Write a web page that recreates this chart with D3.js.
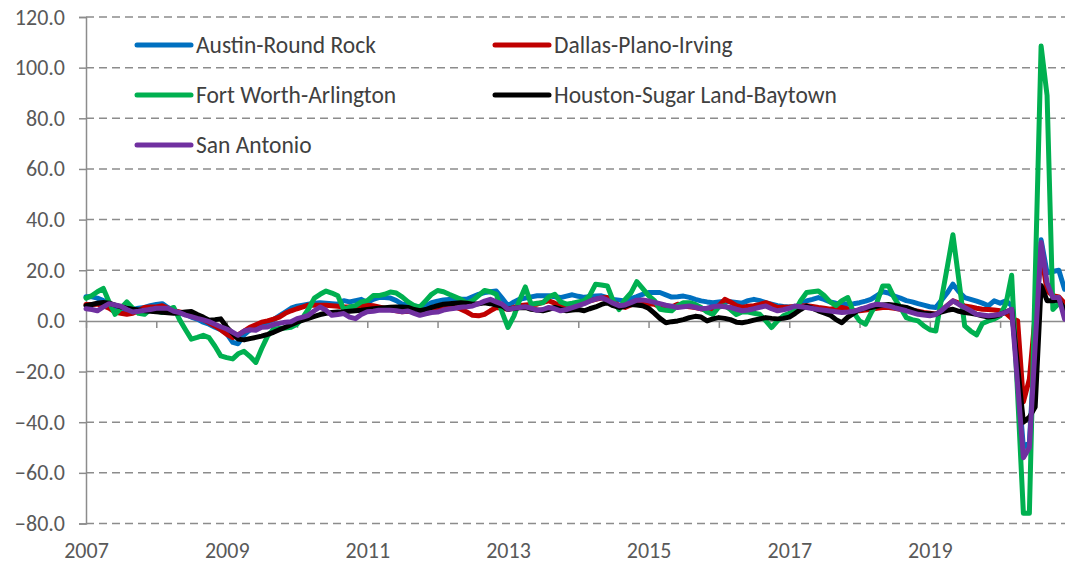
<!DOCTYPE html>
<html>
<head>
<meta charset="utf-8">
<script src="https://cdn.jsdelivr.net/npm/d3@7"></script>
<style>
    body { margin: 0; background: #fff; }
    svg { display: block; font-family: Calibri, Carlito, Lato, sans-serif; }
</style>
</head>
<body>
<div id="chart"></div>
<script>
// monthly values, Jan 2007 .. Dec 2020
const austin = [
    9.5, 9.5, 9, 8, 6.6, 5.5, 5, 4, 4.5, 5, 5.3, 6,
    6.5, 6.8, 5.3, 4, 3, 2.6, 1.5, 0.7, -0.5, -1.3, -2.5, -3.5,
    -5, -8.5, -9, -5.5, -3.5, -2.5, -1.5, -0.5, 0.5, 2, 3.5, 5,
    5.8, 6.2, 6.6, 7, 7.2, 7, 6.8, 6.6, 8, 7.5, 8, 8.5,
    7.2, 8.5, 9.2, 9.2, 9, 8, 6.6, 6.6, 6, 5.3, 6, 7.2,
    7.8, 8.3, 8.5, 8.5, 8.5, 8.5, 9.5, 10.5, 11.2, 11.5, 11.8, 9,
    6, 7.5, 8.5, 9, 9.5, 9.9, 9.9, 9.9, 9.5, 9.2, 9.8, 10.3,
    9.7, 9.3, 9.5, 9.8, 9.9, 9.2, 8.5, 8.2, 7.9, 8.8, 9.6, 10.5,
    11.2, 11.2, 11.2, 10.3, 9.4, 9.5, 9.8, 9.3, 8.5, 7.9, 7.5, 7.2,
    7.5, 7.8, 7.6, 7.3, 7, 8, 8.5, 8, 7.2, 6.6, 6, 5.7,
    5.5, 5.3, 6.5, 7.9, 8.5, 9.2, 8.5, 7.5, 7, 6.8, 6.6, 6.8,
    7.2, 7.8, 8.5, 10, 11.5, 11, 9.8, 9, 8, 7.5, 6.8, 6.2,
    5.6, 5.3, 8, 11, 14.5, 11.5, 9.2, 8.5, 7.8, 7, 6, 7.9,
    7, 7.9, 6, -22, -50, -48, -8, 32, 19, 19.5, 20, 12.5
];
const dallas = [
    6.5, 6.5, 6.6, 6, 5, 3.5, 3, 2.6, 3, 4, 5.3, 5.5,
    5.5, 6, 5, 4, 3.5, 3, 2.5, 1.5, 0.5, -0.7, -2, -3.5,
    -5.3, -6.6, -5.5, -4, -2.5, -1.5, -0.5, 0, 0.7, 1.5, 3, 4,
    4.8, 5.5, 6.2, 6.2, 6.2, 6.2, 6, 5.8, 5.5, 5.5, 5.5, 5.8,
    6.2, 6, 5.5, 5, 4.5, 4, 3.6, 3.8, 3.5, 2.8, 3, 3.8,
    4.5, 5.5, 6, 5.5, 4.6, 3.5, 2.2, 2, 2.6, 4, 5.3, 5,
    4.6, 5.3, 6, 6.3, 6.5, 6.6, 7.3, 7.9, 7, 6, 6, 6,
    6.5, 7.3, 7.9, 8.5, 9, 9.2, 7.5, 6, 5.3, 6.3, 7.2, 7,
    6.8, 6.6, 5.5, 4.6, 5.5, 6.6, 6, 5.6, 5.3, 4.8, 4.3, 4,
    6, 8.5, 7.5, 6, 5.3, 5.8, 6, 6.5, 7.2, 6.3, 5.3, 5.4,
    5.5, 5.7, 5.9, 6, 5.7, 5.3, 5, 4.6, 5, 5.3, 4.7, 4.2,
    4, 4.3, 4.6, 5, 5.3, 5.3, 5, 4.6, 4.5, 4.2, 3.8, 3.3,
    3, 2.6, 4, 6, 7.9, 7, 5.9, 5.5, 5, 4.6, 4.5, 4.3,
    4, 3, 1, 0, -32, -23, 2, 27, 11.8, 10, 9.5, 7
];
const fortWorth = [
    9, 10, 11.5, 12.8, 7.5, 2.6, 5, 7.5, 5, 3, 2.6, 4.6,
    4, 3.3, 4.5, 5.3, 0.5, -3.5, -7.2, -6.5, -5.7, -6.6, -10, -13.8,
    -14.5, -15, -13, -12, -14, -16.4, -11, -6, -3.3, -3, -2.8, -2.5,
    -1.3, 1.5, 4.6, 9, 10.5, 11.8, 11, 9.9, 4.5, 5.5, 6, 7.5,
    8, 10, 10, 10.5, 11.4, 11, 9.5, 7.5, 6, 5.5, 8, 10.5,
    12, 11.5, 10.5, 9.5, 8.5, 7, 8, 10, 12, 11.5, 10.5, 3.5,
    -2.6, 2, 8, 13.4, 6.6, 7, 7.2, 9.5, 10.5, 7.5, 6.6, 7,
    7.5, 8, 10, 14.5, 14.2, 13.8, 8, 4.5, 8.5, 11, 15.5, 12.8,
    10, 8, 4.6, 4.2, 4, 6, 7.2, 7.2, 6.5, 5.3, 3.5, 2.6,
    5.5, 6, 4.5, 2.5, 3.5, 3.5, 3, 2.6, 0, -2.6, 0, 2,
    3, 4, 8, 11.2, 11.5, 11.8, 10, 7.5, 6, 8, 9.2, 3.3,
    0, -1.3, 3, 7.2, 13.8, 13.8, 9, 5.3, 1.3, 0.5, 0, -2,
    -3.5, -4, 8, 21, 34, 16, -2, -4, -5.5, -1, 0, 0.7,
    2, 7, 18, -29, -76, -76, 16, 108.5, 89, 4.5, 7, 5
];
const houston = [
    6, 6.5, 7, 7.3, 7, 6.2, 5.5, 5, 4.6, 4.3, 4, 3.8,
    3.6, 3.4, 3.2, 3, 3.2, 3.5, 3.7, 2.5, 1.5, 0.3, 0.5, 0.8,
    -2.5, -5, -7.2, -7.5, -7, -6.5, -6, -5.3, -4.5, -3.5, -2.5, -1.5,
    -0.5, 0.3, 1, 1.8, 2.5, 3, 3.3, 3.5, 3.6, 3.8, 4, 4.2,
    4.5, 4.8, 5, 5.2, 5.4, 5.5, 5.5, 5.3, 4.5, 4, 4.5, 5.3,
    6, 6.6, 6.8, 7, 7.2, 7, 6.6, 6.8, 7.2, 6.8, 6.3, 5.9,
    4.6, 4.9, 5.2, 5.3, 4.6, 4.3, 4, 4.6, 5.3, 4.6, 4, 4.3,
    4.5, 4, 4.8, 5.5, 6.5, 7.2, 6, 5.3, 5.8, 6.5, 6.3, 6,
    5, 3, 1, -0.7, -0.3, 0, 0.5, 1.3, 1.8, 1.5, 0, 0.8,
    1.3, 1, 0.5, -0.5, -0.7, -0.3, 0.3, 0.8, 1.3, 1, 0.8, 1,
    1.5, 3, 4.5, 5.9, 5, 4, 3.2, 2.3, 0.5, -0.7, 1.5, 3,
    4.5, 5, 5.3, 5.8, 6.3, 6.5, 6.2, 5.7, 5.3, 4.5, 3.5, 3,
    2.8, 2.6, 3.5, 4.2, 4.6, 3.8, 3.3, 3, 2.6, 2, 1.5, 1.8,
    2.5, 3.5, 4.5, -18, -40, -38, -34, 14, 8, 8, 8.2, 4.5
];
const sanAntonio = [
    4.8, 4.5, 4, 5.5, 6.8, 6.3, 5.8, 4.5, 3.5, 3.8, 4.2, 4.5,
    5, 5, 5, 3.8, 3.3, 2.3, 1.7, 1, 0.4, -0.3, -1.3, -2.3,
    -3.2, -4.5, -5.7, -4, -3.5, -3.7, -2.5, -2.4, -1.5, -1, -0.5, -0.3,
    0.9, 1.5, 2.2, 4, 5.5, 4.2, 2.2, 2.5, 2.9, 1.5, 0.9, 2.5,
    3.6, 3.8, 4.2, 4.2, 4.2, 4, 3.6, 3.9, 3, 2.2, 2.8, 3.3,
    3.5, 4.3, 4.7, 5, 5.4, 5.6, 5.9, 6.8, 7.8, 8.5, 7.5, 6.6,
    4.6, 5, 5.3, 5.6, 5, 4.2, 4.5, 5.3, 4.8, 4, 4.5, 5.2,
    6, 6.8, 7.8, 8.6, 9.2, 8.2, 7, 6, 6.3, 7.2, 8.2, 8.3,
    7.9, 7.3, 6.8, 6.2, 5.8, 5.3, 5.6, 5.9, 5.4, 4.8, 5, 5.6,
    5.9, 5.6, 5.3, 4.6, 4, 4.3, 4.8, 5.4, 5.9, 4.8, 4, 4.4,
    5, 5.9, 5.6, 5.3, 4.9, 4.5, 4.2, 3.9, 3.6, 3.3, 3.5, 3.8,
    4.5, 5.2, 6, 6.6, 6.3, 5.9, 5.2, 4.6, 4, 3.3, 2.6, 2.3,
    2, 2.5, 4, 6, 7.9, 6.5, 5.3, 4, 2.6, 2.3, 2, 2.2,
    2.6, 3.5, 4.6, -25, -54, -50, -10, 31, 15, 9.2, 9.2, 0.7
];

const seriesNames = ['Austin-Round Rock', 'Dallas-Plano-Irving', 'Fort Worth-Arlington',
    'Houston-Sugar Land-Baytown', 'San Antonio'];
const seriesColors = ['#0070C0', '#C00000', '#00B050', '#000000', '#7030A0'];
const yTicks = [-80, -60, -40, -20, 0, 20, 40, 60, 80, 100, 120];
const yearLabels = [2007, 2009, 2011, 2013, 2015, 2017, 2019];

const width = 1065, height = 568;
const fontFamily = 'Calibri, Carlito, Lato, sans-serif';
const months = d3.timeMonth.range(new Date(2007, 0, 1), new Date(2021, 0, 1));
const series = [austin, dallas, fortWorth, houston, sanAntonio].map((values, i) => ({
    name: seriesNames[i],
    color: seriesColors[i],
    values: values
}));

const svg = d3.select('#chart').append('svg')
    .attr('width', width)
    .attr('height', height);

const x = d3.scaleTime()
    .domain([months[0], months[months.length - 1]])
    .range([86, 1064.6]);
const y = d3.scaleLinear()
    .domain([-80, 120])
    .range([523.5, 17]);

/* dashed gridlines */
svg.append('g')
    .attr('class', 'grid')
    .selectAll('line')
    .data(yTicks.filter((t) => t !== 0))
    .join('line')
    .attr('x1', 86)
    .attr('x2', 1065)
    .attr('y1', (d) => y(d))
    .attr('y2', (d) => y(d))
    .attr('stroke', '#8c8c8c')
    .attr('stroke-width', 1.5)
    .attr('stroke-dasharray', '8,5');

/* y axis */
const yAxis = svg.append('g')
    .attr('transform', 'translate(86,0)')
    .call(d3.axisLeft(y).tickValues(yTicks).tickFormat(d3.format('.1f')).tickSize(7).tickPadding(14));
yAxis.select('.domain').attr('stroke', '#8c8c8c').attr('stroke-width', 1.5);
yAxis.selectAll('.tick line').attr('stroke', '#8c8c8c').attr('stroke-width', 1.5);
yAxis.selectAll('.tick text')
    .attr('fill', '#595959')
    .style('font-size', '22px')
    .style('font-family', fontFamily);

/* x axis at zero with yearly ticks */
const xAxis = svg.append('g')
    .attr('transform', `translate(0,${y(0)})`)
    .call(d3.axisBottom(x).ticks(d3.timeYear.every(1)).tickFormat('').tickSize(7).tickSizeOuter(0));
xAxis.select('.domain').attr('stroke', '#8c8c8c').attr('stroke-width', 1.5)
    .attr('d', 'M86,0.5H1065');
xAxis.selectAll('.tick line').attr('stroke', '#8c8c8c').attr('stroke-width', 1.5);

/* year labels at the bottom */
const xLabels = svg.append('g')
    .attr('transform', 'translate(0,539)')
    .call(d3.axisBottom(x)
        .tickValues(yearLabels.map((yr) => new Date(yr, 0, 1)))
        .tickFormat(d3.timeFormat('%Y'))
        .tickSize(0));
xLabels.select('.domain').remove();
xLabels.selectAll('.tick text')
    .attr('fill', '#595959')
    .style('font-size', '22px')
    .style('font-family', fontFamily);

/* lines */
const line = d3.line()
    .x((d, i) => x(months[i]))
    .y((d) => y(d));

svg.append('g')
    .attr('class', 'lines')
    .selectAll('path')
    .data(series)
    .join('path')
    .attr('d', (d) => line(d.values))
    .attr('fill', 'none')
    .attr('stroke', (d) => d.color)
    .attr('stroke-width', 5)
    .attr('stroke-linejoin', 'round')
    .attr('stroke-linecap', 'round');

/* legend */
const legend = svg.append('g').attr('class', 'legend');
const item = legend.selectAll('g')
    .data(series)
    .join('g')
    .attr('transform', (d, i) => `translate(${i % 2 ? 495 : 137},${45 + Math.floor(i / 2) * 50})`);
item.append('line')
    .attr('x1', 0)
    .attr('x2', 54)
    .attr('stroke', (d) => d.color)
    .attr('stroke-width', 5)
    .attr('stroke-linecap', 'round');
item.append('text')
    .attr('x', 59)
    .attr('dy', '0.35em')
    .attr('fill', '#404040')
    .style('font-size', '23.5px')
    .text((d) => d.name);
</script>
</body>
</html>
